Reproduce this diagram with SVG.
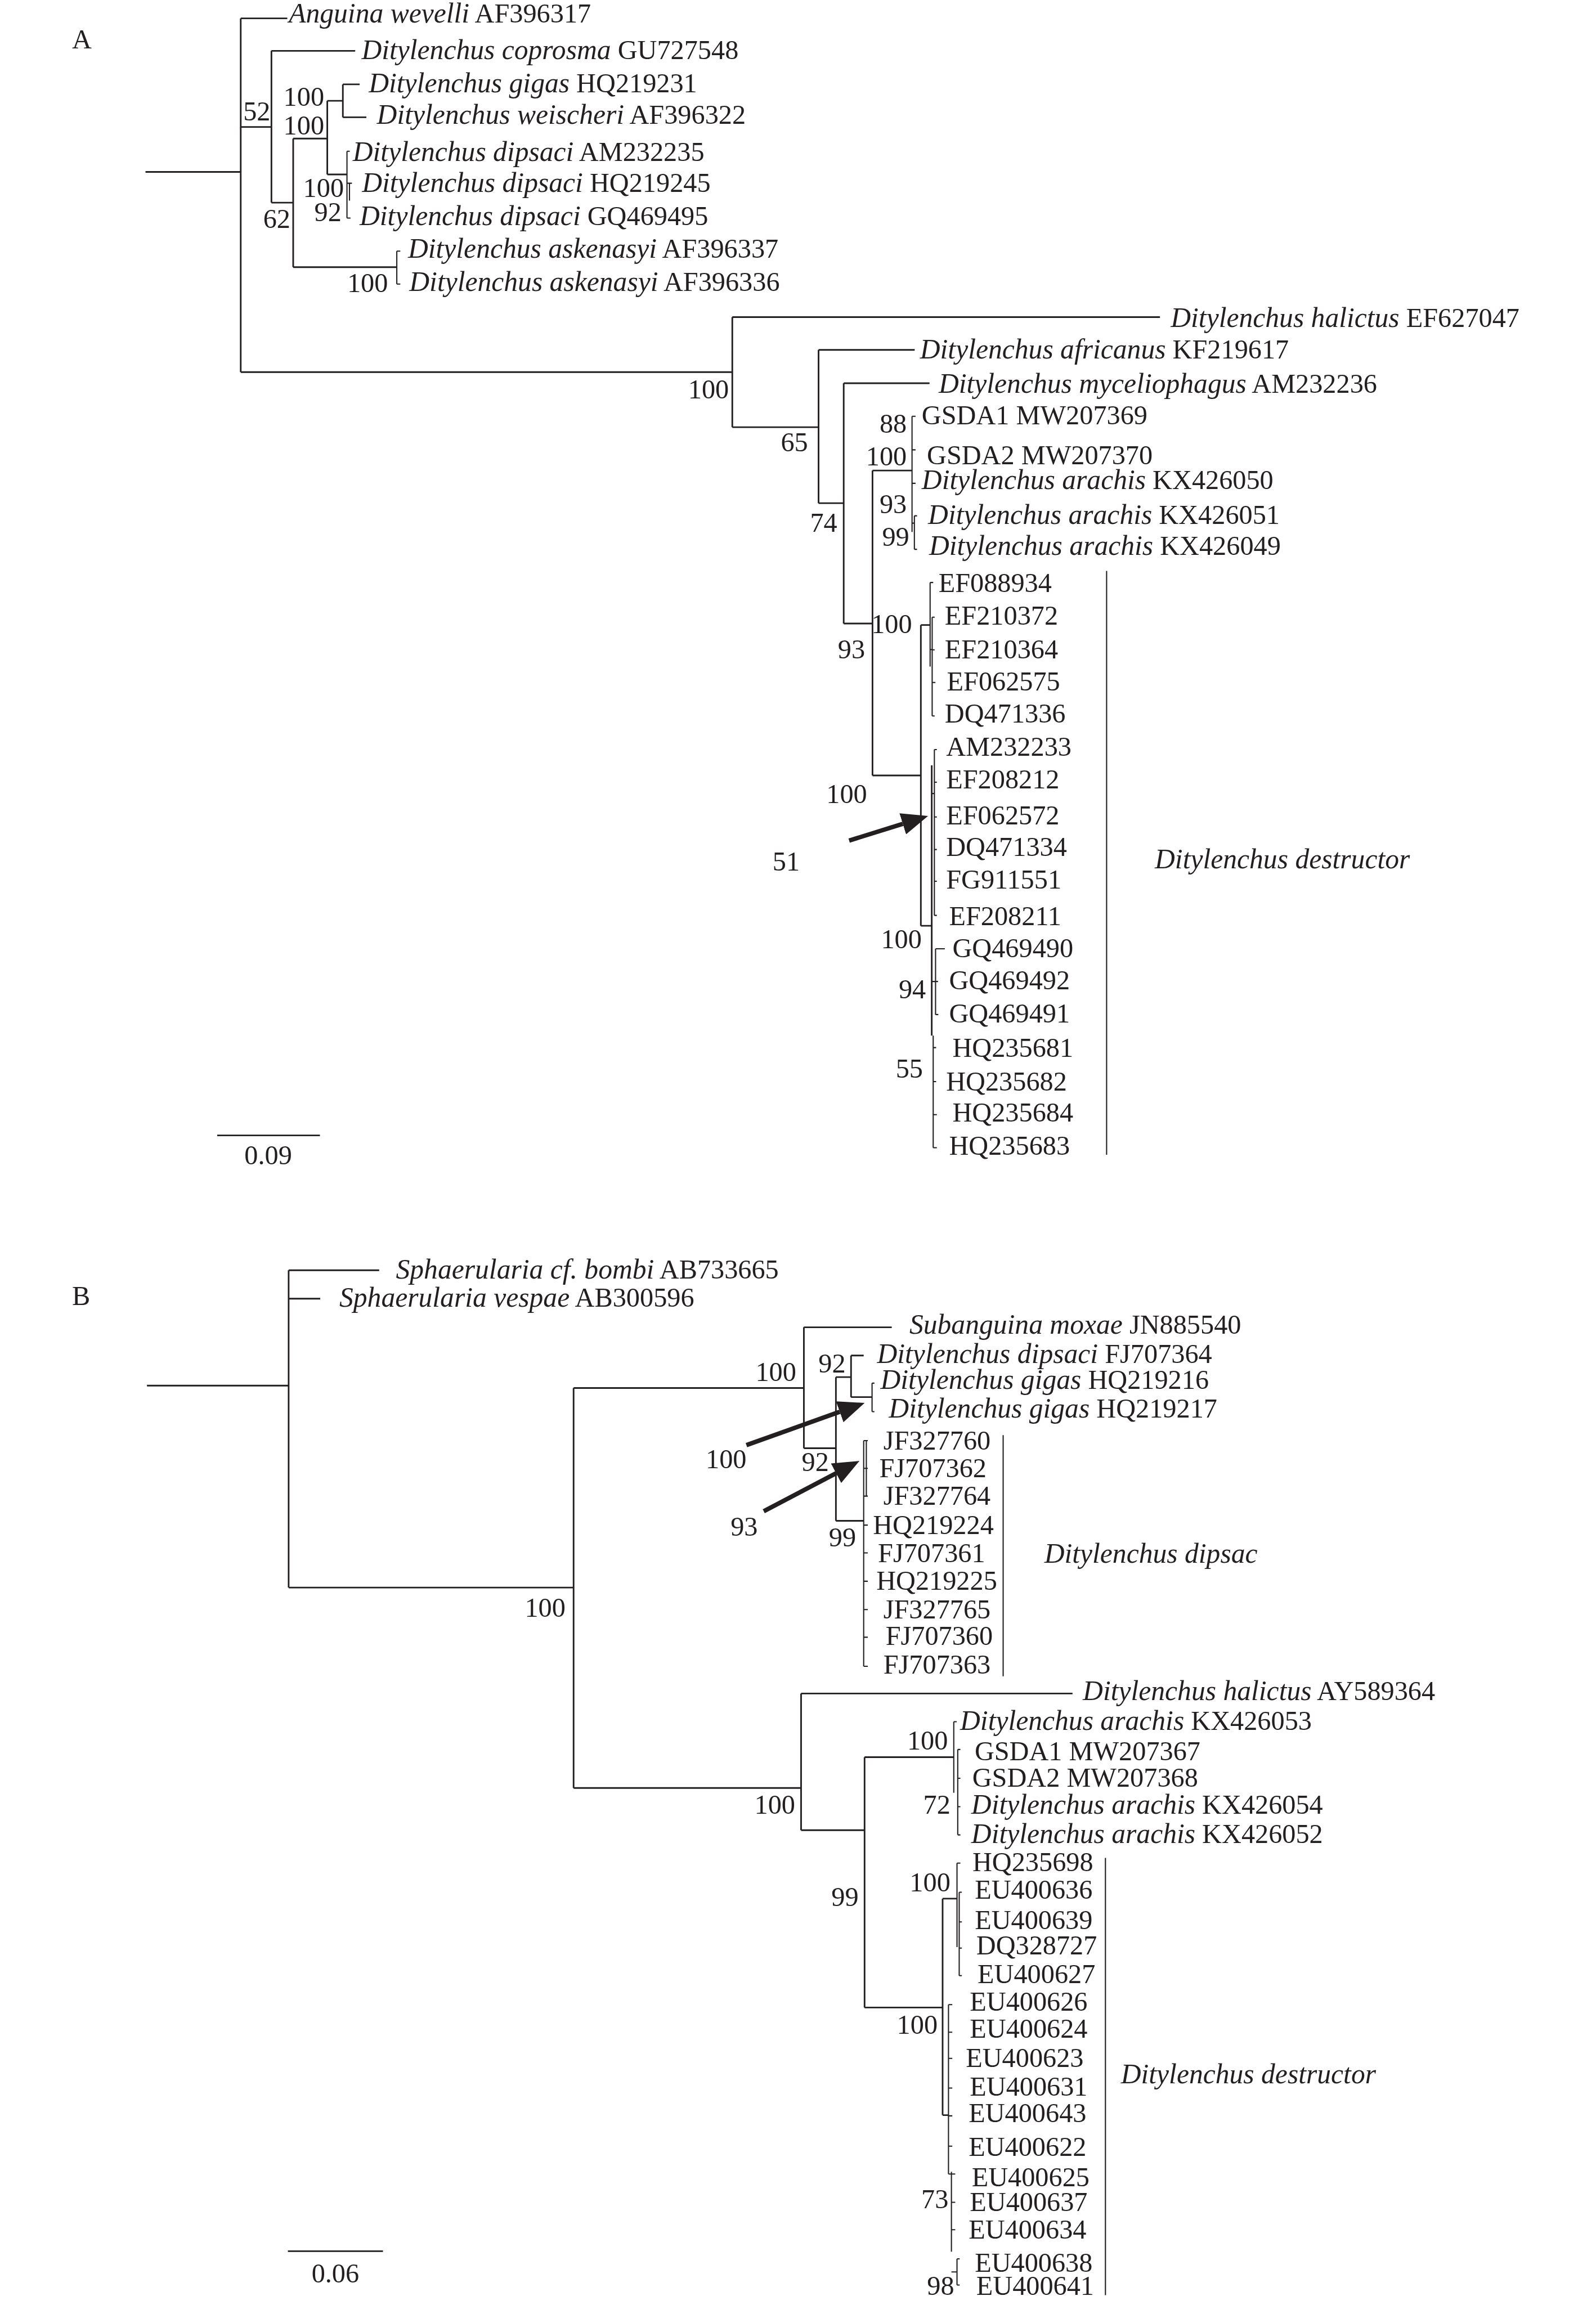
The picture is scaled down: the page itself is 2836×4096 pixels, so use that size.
<svg xmlns="http://www.w3.org/2000/svg" width="2836" height="4096" viewBox="0 0 2836 4096">
<style>
.b{fill:none;stroke:#231f20;stroke-width:1.1}
.t{fill:none;stroke:#231f20;stroke-width:0.8}
.ar{fill:none;stroke:#231f20;stroke-width:3}
text{font-family:"Liberation Serif","Times New Roman",serif;font-size:18.5px;fill:#231f20}
.i{font-style:italic;font-size:19px}
.e{text-anchor:end}
.m{text-anchor:middle}
</style>
<defs>
<marker id="ah" markerUnits="userSpaceOnUse" markerWidth="18" markerHeight="15" viewBox="0 0 18 15" refX="0" refY="7.5" orient="auto"><path d="M0,0L18,7.5L0,15Z" fill="#231f20"/></marker>
</defs>
<rect width="2836" height="4096" fill="#fff"/>
<g transform="scale(2.6114)">
<!-- ===== Tree A connectors ===== -->
<g id="connectors-A">
<path class="b" d="M99,117H163.8M163.8,12.5V253.2M163.8,12.5H195.5M163.8,86.4H184.7M184.7,34.6V137.9M184.7,34.6H241.7M184.7,137.9H199.5M199.5,94.3V181.8M199.5,94.3H222.7M222.7,68.6V118.7M222.7,68.6H233.3M233.3,57.4V79.8M233.3,57.4H244.7M233.3,79.8H249.3M222.7,118.7H236.1M199.5,181.8H270M163.8,253.2H498.3M498.3,215.8V290.7M498.3,215.8H789.3M498.3,290.7H557M557,238.1V342.4M557,238.1H622.4M557,342.4H574.1M574.1,260.8V424.3M574.1,260.8H632.5M574.1,424.3H593.7M593.7,320.2V527.7M593.7,320.2H620.6M593.7,527.7H626.6M626.6,425.3V630M626.6,425.3H632.9M626.6,630H634M634,520.8V704.7"/>
<path class="t" d="M236.1,102.9V148.4M236.1,102.9H238M236.1,124.7H239.5M236.1,148.4H238.5M237.8,124.7V136.5M270,170.9V193.3M270,170.9H272.4M270,193.3H272.4M620.6,283.3V362M620.6,283.3H623M620.6,306.1H623M620.6,328.9H623M622.2,351V373.8M620.6,356H622.2M622.2,351H624M622.2,373.8H624M632.9,396.4V453.6M632.9,396.4H635M634.3,420V487.2M632.9,442H634.3M634.3,420H636M634.3,442.2H636M634.3,464.4H636.5M634.3,487.2H636M635.8,510.1V622.9M634,540H635.8M635.8,510.1H637.5M635.8,532.3H637.5M635.8,555.9H637.5M635.8,578.1H637.5M635.8,599.7H637.5M635.8,622.9H637.5M636.6,645.6V690.4M634,667.9H636.6M636.6,645.6H642.9M636.6,667.9H638.3M636.6,690.4H638.5M635,704.7V781M635,712.9H637M635,736H637M635,758.5H637.5M635,781H637.5M753,388.5V785.8"/>
<path class="b" d="M147.8,772.6H217.7"/>
<line class="ar" x1="577.8" y1="572" x2="614.3" y2="560.6" marker-end="url(#ah)"/>
</g>
<!-- ===== Tree A nodes (taxa) ===== -->
<g id="nodes-A">
<text id="A-label" x="49" y="33">A</text>
<g id="A-anguina"><text x="196.5" y="15.5"><tspan class="i">Anguina wevelli</tspan> AF396317</text></g>
<g id="A-coprosma"><text x="246" y="40.2"><tspan class="i">Ditylenchus coprosma</tspan> GU727548</text></g>
<g id="A-gigas"><text x="250.9" y="62.7"><tspan class="i">Ditylenchus gigas</tspan> HQ219231</text></g>
<g id="A-weischeri"><text x="256.4" y="84.2"><tspan class="i">Ditylenchus weischeri</tspan> AF396322</text></g>
<g id="A-dipsaci1"><text x="240" y="109.5"><tspan class="i">Ditylenchus dipsaci</tspan> AM232235</text></g>
<g id="A-dipsaci2"><text x="246.3" y="130.6"><tspan class="i">Ditylenchus dipsaci</tspan> HQ219245</text></g>
<g id="A-dipsaci3"><text x="244.7" y="153"><tspan class="i">Ditylenchus dipsaci</tspan> GQ469495</text></g>
<g id="A-askenasyi1"><text x="277.6" y="175.5"><tspan class="i">Ditylenchus askenasyi</tspan> AF396337</text></g>
<g id="A-askenasyi2"><text x="278.5" y="198"><tspan class="i">Ditylenchus askenasyi</tspan> AF396336</text></g>
<g id="A-halictus"><text x="796.6" y="222.4"><tspan class="i">Ditylenchus halictus</tspan> EF627047</text></g>
<g id="A-africanus"><text x="626" y="243.9"><tspan class="i">Ditylenchus africanus</tspan> KF219617</text></g>
<g id="A-myceliophagus"><text x="638.7" y="267.3"><tspan class="i">Ditylenchus myceliophagus</tspan> AM232236</text></g>
<g id="A-gsda1"><text x="627.2" y="288.9">GSDA1 MW207369</text></g>
<g id="A-gsda2"><text x="630.7" y="315.9">GSDA2 MW207370</text></g>
<g id="A-arachis1"><text x="627.2" y="332.6"><tspan class="i">Ditylenchus arachis</tspan> KX426050</text></g>
<g id="A-arachis2"><text x="631.5" y="356.6"><tspan class="i">Ditylenchus arachis</tspan> KX426051</text></g>
<g id="A-arachis3"><text x="632.2" y="377.5"><tspan class="i">Ditylenchus arachis</tspan> KX426049</text></g>
<g id="A-EF088934"><text x="638.6" y="402.8">EF088934</text></g>
<g id="A-EF210372"><text x="642.9" y="425">EF210372</text></g>
<g id="A-EF210364"><text x="642.9" y="447.9">EF210364</text></g>
<g id="A-EF062575"><text x="644.3" y="470">EF062575</text></g>
<g id="A-DQ471336"><text x="642.9" y="491.5">DQ471336</text></g>
<g id="A-AM232233"><text x="643.8" y="514.4">AM232233</text></g>
<g id="A-EF208212"><text x="643.8" y="536.6">EF208212</text></g>
<g id="A-EF062572"><text x="643.8" y="560.9">EF062572</text></g>
<g id="A-DQ471334"><text x="643.8" y="582.4">DQ471334</text></g>
<g id="A-FG911551"><text x="643.8" y="604.5">FG911551</text></g>
<g id="A-EF208211"><text x="645.8" y="629.7">EF208211</text></g>
<g id="A-GQ469490"><text x="648.1" y="651.5">GQ469490</text></g>
<g id="A-GQ469492"><text x="645.8" y="673.3">GQ469492</text></g>
<g id="A-GQ469491"><text x="645.8" y="695.8">GQ469491</text></g>
<g id="A-HQ235681"><text x="648.1" y="719">HQ235681</text></g>
<g id="A-HQ235682"><text x="643.8" y="742.2">HQ235682</text></g>
<g id="A-HQ235684"><text x="648.1" y="763.3">HQ235684</text></g>
<g id="A-HQ235683"><text x="645.8" y="785.8">HQ235683</text></g>
<g id="A-destructor"><text class="i" x="785.8" y="590.9">Ditylenchus destructor</text></g>
<g id="A-scale"><text class="m" x="182.5" y="792.4">0.09</text></g>
</g>
<g id="support-A">
<text class="e" x="184" y="81.8">52</text>
<text class="e" x="220.6" y="71.9">100</text>
<text class="e" x="220.6" y="91.7">100</text>
<text class="e" x="234" y="133.9">100</text>
<text class="e" x="232.4" y="150.4">92</text>
<text class="e" x="197.6" y="155">62</text>
<text class="e" x="264" y="198.6">100</text>
<text class="e" x="496" y="271">100</text>
<text class="e" x="549.8" y="307.3">65</text>
<text class="e" x="569.7" y="362">74</text>
<text class="e" x="617" y="294.4">88</text>
<text class="e" x="617" y="316.6">100</text>
<text class="e" x="617" y="349.2">93</text>
<text class="e" x="618.7" y="371.3">99</text>
<text class="e" x="588.6" y="447.9">93</text>
<text class="e" x="620.6" y="430.7">100</text>
<text class="e" x="590" y="546.6">100</text>
<text x="525.7" y="592.4">51</text>
<text class="e" x="627.2" y="645.4">100</text>
<text class="e" x="630" y="679.5">94</text>
<text class="e" x="628" y="733.3">55</text>
</g>
<!-- ===== Tree B connectors ===== -->
<g id="connectors-B">
<path class="b" d="M100,942.9H196.4M196.4,864.4V1080.3M196.4,864.4H258M196.4,883.7H217.9M196.4,1080.3H390.3M390.3,944.5V1216.7M390.3,944.5H547M547,903.2V985.5M547,903.2H606.8M547,985.5H568.8M568.8,937.1V1034.9M568.8,937.1H579.1M579.1,922.4V950.7M579.1,922.4H587.7M579.1,950.7H593.4M568.8,1034.9H587.7M390.3,1216.7H545.1M545.1,1152.4V1245.4M545.1,1152.4H729.8M545.1,1245.4H588.3M588.3,1195.7V1366.1M588.3,1195.7H649M588.3,1366.1H641.4M641.4,1292V1439.3M641.4,1292H651.2M641.4,1439.3H645.4"/>
<path class="t" d="M593.4,941.2V960.6M593.4,941.2H595M593.4,960.6H595M587.7,980.3V1133.9M589.5,980.3V1018.1M587.7,980.3H590.5M587.7,999.2H590.5M587.7,1018.1H590.5M587.7,1037.8H590.5M587.7,1056.7H590.5M587.7,1076H590.5M587.7,1095.3H590.5M587.7,1114.1H590.5M587.7,1133.9H590.5M682.6,976.6V1140.7M649,1171.6V1219.9M651.7,1190.5V1248.6M649,1171.6H651M651.7,1190.5H653.5M651.7,1210.1H653.5M651.7,1229.4H653.5M651.7,1248.6H653.5M651.2,1267.8V1325M652.7,1287.6V1344.4M651.2,1267.8H653.5M652.7,1287.6H654.5M652.7,1307.8H654.5M652.7,1325.6H654.5M652.7,1344.4H654.5M645.4,1364.1V1479.4M647.4,1477.8V1532.2M645.4,1479.4H647.4M651.2,1537.1V1554.9M647.4,1546H651.2M645.4,1364.1H648M645.4,1382.9H648M645.4,1400.7H648M645.4,1420.9H648M645.4,1439.8H648M645.4,1460.4H648M647.4,1479.4H650M647.4,1498.6H650M647.4,1517.3H650M651.2,1537.1H653M651.2,1554.9H653M752.2,1264.3V1561.8"/>
<path class="b" d="M195.9,1531.9H260.6"/>
<line class="ar" x1="507.9" y1="983.4" x2="571.4" y2="960.7" marker-end="url(#ah)"/>
<line class="ar" x1="519.7" y1="1028.4" x2="568.9" y2="1002.5" marker-end="url(#ah)"/>
</g>
<!-- ===== Tree B nodes (taxa) ===== -->
<g id="nodes-B">
<text id="B-label" x="49" y="888">B</text>
<g id="B-bombi"><text x="269.4" y="869.9"><tspan class="i">Sphaerularia cf. bombi</tspan> AB733665</text></g>
<g id="B-vespae"><text x="230.9" y="889.1"><tspan class="i">Sphaerularia vespae</tspan> AB300596</text></g>
<g id="B-subanguina"><text x="618.8" y="907.5"><tspan class="i">Subanguina moxae</tspan> JN885540</text></g>
<g id="B-dipsaci"><text x="596.8" y="927.5"><tspan class="i">Ditylenchus dipsaci</tspan> FJ707364</text></g>
<g id="B-gigas1"><text x="599.1" y="945.2"><tspan class="i">Ditylenchus gigas</tspan> HQ219216</text></g>
<g id="B-gigas2"><text x="604.8" y="964.6"><tspan class="i">Ditylenchus gigas</tspan> HQ219217</text></g>
<g id="B-JF327760"><text x="601.1" y="986.4">JF327760</text></g>
<g id="B-FJ707362"><text x="598.3" y="1005.2">FJ707362</text></g>
<g id="B-JF327764"><text x="601.1" y="1024.1">JF327764</text></g>
<g id="B-HQ219224"><text x="594" y="1043.8">HQ219224</text></g>
<g id="B-FJ707361"><text x="597.4" y="1063">FJ707361</text></g>
<g id="B-HQ219225"><text x="596.3" y="1081.9">HQ219225</text></g>
<g id="B-JF327765"><text x="601.1" y="1101.3">JF327765</text></g>
<g id="B-FJ707360"><text x="602.6" y="1119.3">FJ707360</text></g>
<g id="B-FJ707363"><text x="601.1" y="1139">FJ707363</text></g>
<g id="B-dipsac"><text class="i" x="710.6" y="1063.5">Ditylenchus dipsac</text></g>
<g id="B-halictus"><text x="736.8" y="1157"><tspan class="i">Ditylenchus halictus</tspan> AY589364</text></g>
<g id="B-arachis1"><text x="653.3" y="1177.3"><tspan class="i">Ditylenchus arachis</tspan> KX426053</text></g>
<g id="B-gsda1"><text x="663.2" y="1197.7">GSDA1 MW207367</text></g>
<g id="B-gsda2"><text x="661.6" y="1215.8">GSDA2 MW207368</text></g>
<g id="B-arachis2"><text x="660.9" y="1234.2"><tspan class="i">Ditylenchus arachis</tspan> KX426054</text></g>
<g id="B-arachis3"><text x="660.9" y="1254.3"><tspan class="i">Ditylenchus arachis</tspan> KX426052</text></g>
<g id="B-HQ235698"><text x="661.7" y="1273.2">HQ235698</text></g>
<g id="B-EU400636"><text x="663.3" y="1292">EU400636</text></g>
<g id="B-EU400639"><text x="663.3" y="1312.7">EU400639</text></g>
<g id="B-DQ328727"><text x="664.3" y="1330">DQ328727</text></g>
<g id="B-EU400627"><text x="665.2" y="1349.3">EU400627</text></g>
<g id="B-EU400626"><text x="659.9" y="1368.1">EU400626</text></g>
<g id="B-EU400624"><text x="659.9" y="1386.8">EU400624</text></g>
<g id="B-EU400623"><text x="657.2" y="1406.6">EU400623</text></g>
<g id="B-EU400631"><text x="659.9" y="1426">EU400631</text></g>
<g id="B-EU400643"><text x="659.1" y="1444.2">EU400643</text></g>
<g id="B-EU400622"><text x="659.1" y="1466.9">EU400622</text></g>
<g id="B-EU400625"><text x="661.2" y="1487.7">EU400625</text></g>
<g id="B-EU400637"><text x="659.9" y="1504.5">EU400637</text></g>
<g id="B-EU400634"><text x="659.1" y="1523.2">EU400634</text></g>
<g id="B-EU400638"><text x="663.3" y="1546">EU400638</text></g>
<g id="B-EU400641"><text x="664.3" y="1561.8">EU400641</text></g>
<g id="B-destructor"><text class="i" x="762.7" y="1417.5">Ditylenchus destructor</text></g>
<g id="B-scale"><text class="m" x="228.2" y="1553.1">0.06</text></g>
</g>
<g id="support-B">
<text class="e" x="541.8" y="939.6">100</text>
<text class="e" x="575.4" y="934">92</text>
<text class="e" x="564" y="1000.9">92</text>
<text x="480.2" y="999.1">100</text>
<text x="497.1" y="1045.1">93</text>
<text class="e" x="582.5" y="1052.4">99</text>
<text class="e" x="384.8" y="1100.1">100</text>
<text class="e" x="541.1" y="1234.2">100</text>
<text class="e" x="645" y="1190.5">100</text>
<text class="e" x="646.7" y="1234.2">72</text>
<text class="e" x="584.2" y="1296.9">99</text>
<text class="e" x="646.7" y="1287">100</text>
<text class="e" x="638" y="1383.9">100</text>
<text class="e" x="645.4" y="1502.5">73</text>
<text class="e" x="649.3" y="1561.8">98</text>
</g>
</g>
</svg>
